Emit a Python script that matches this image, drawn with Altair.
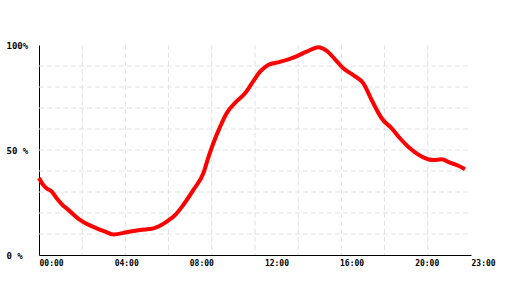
import altair as alt
import pandas as pd

# Curve: hour of day vs. percentage
hours = [0.0, 0.23, 0.41, 0.68, 0.94, 1.29, 1.47, 2.18, 3.07, 3.5, 3.96, 4.67,
         5.38, 6.09, 6.8, 7.3, 7.68, 8.22, 8.75, 9.0, 9.28, 9.64, 9.99, 10.5,
         10.97, 11.33, 11.77, 12.2, 12.83, 13.54, 14.25, 14.87, 15.3, 15.76,
         16.2, 16.73, 17.27, 17.71, 18.25, 18.78, 19.22, 19.75, 20.46, 21.0,
         21.44, 21.88, 22.33, 22.68]
values = [36.7, 33.3, 31.7, 30.2, 27.0, 23.5, 22.2, 16.7, 12.7, 11.2, 9.8, 10.8,
          11.9, 12.7, 15.9, 19.5, 23.8, 31.0, 38.9, 46.0, 53.2, 61.0, 67.5, 73.0,
          77.0, 81.7, 87.3, 90.5, 92.0, 94.0, 96.8, 98.9, 97.3, 93.2,
          88.9, 85.7, 81.7, 73.8, 65.0, 60.3, 55.6, 50.8, 46.5, 45.2,
          45.6, 44.0, 42.5, 40.8]

x_tick_values = [0, 4, 8, 12, 16, 20, 23]
x_tick_labels = ["00:00", "04:00", "08:00", "12:00", "16:00", "20:00", "23:00"]
y_tick_values = [0, 50, 100]
y_tick_labels = ["0 %", "50 %", "100%"]

x_grid = [2.3, 4.6, 6.9, 9.2, 11.5, 13.8, 16.1, 18.4, 20.7]
y_grid = [10, 20, 30, 40, 50, 60, 70, 80, 90]

df = pd.DataFrame({"hour": hours, "value": values})
gx = pd.DataFrame({"hour": x_grid})
gy = pd.DataFrame({"value": y_grid})


def label_expr(vals, labels):
    parts = [f"datum.value == {v} ? '{l}'" for v, l in zip(vals, labels)]
    return " : ".join(parts) + " : ''"


FONT = "DejaVu Sans Mono"
xscale = alt.Scale(domain=[0, 23], nice=False, zero=False)
yscale = alt.Scale(domain=[0, 100], nice=False)
dash = [5, 3]
grid_color = "#e2e2e2"

xaxis = alt.Axis(
    values=x_tick_values,
    labelExpr=label_expr(x_tick_values, x_tick_labels),
    title=None,
    grid=False,
    ticks=False,
    domainColor="black",
    labelAlign="left",
    labelBaseline="top",
    labelPadding=4,
    labelFont=FONT,
    labelFontSize=8,
    labelFontWeight="bold",
    labelColor="black",
    labelOverlap=False,
    labelFlush=False,
)
yaxis = alt.Axis(
    values=y_tick_values,
    labelExpr=label_expr(y_tick_values, y_tick_labels),
    title=None,
    grid=False,
    ticks=False,
    domainColor="black",
    labelAlign="left",
    labelBaseline="middle",
    labelPadding=33,
    labelFont=FONT,
    labelFontSize=9,
    labelFontWeight="bold",
    labelColor="black",
    labelOverlap=False,
    labelFlush=False,
)

X = alt.X("hour:Q", scale=xscale, axis=xaxis)
Y = alt.Y("value:Q", scale=yscale, axis=yaxis)

vgrid = alt.Chart(gx).mark_rule(color=grid_color, strokeDash=dash, strokeWidth=1).encode(
    x=X,
    y=alt.value(0),
    y2=alt.value(210),
)
hgrid = alt.Chart(gy).mark_rule(color=grid_color, strokeDash=dash, strokeWidth=1).encode(
    y=Y,
    x=alt.value(0),
    x2=alt.value(432),
)

line = alt.Chart(df).mark_line(color="#ff0000", strokeWidth=4, interpolate="monotone").encode(
    x=X,
    y=Y,
)

chart = (
    alt.layer(vgrid, hgrid, line)
    .properties(
        width=432,
        height=210,
        autosize=alt.AutoSizeParams(type="none"),
        padding={"left": 39, "top": 45, "right": 49, "bottom": 45},
        view=alt.ViewBackground(stroke="transparent", strokeWidth=0, strokeOpacity=0),
    )
    .configure_view(stroke="transparent", strokeWidth=0, strokeOpacity=0)
    .configure(background="white")
)

chart.save("out.html", embed_options={"renderer": "svg", "actions": False})
